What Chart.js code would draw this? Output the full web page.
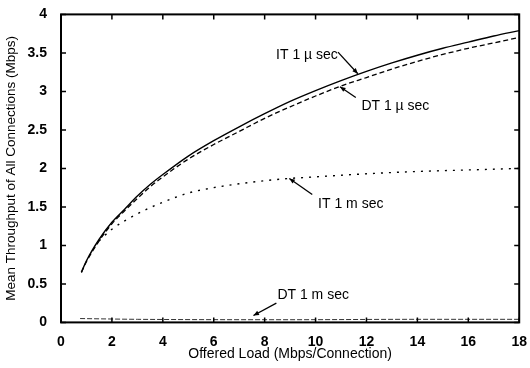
<!DOCTYPE html>
<html>
<head>
<meta charset="utf-8">
<script src="https://cdn.jsdelivr.net/npm/chart.js@4.4.1/dist/chart.umd.min.js"></script>
<style>
  html, body { margin: 0; padding: 0; background: #fff; }
  #wrap { width: 530px; height: 368px; }
</style>
</head>
<body>
<div id="wrap"><canvas id="chart" width="530" height="368"></canvas></div>
<script>
// offered load (Mbps/connection)
const loadX = [0.8, 1, 1.5, 2, 2.5, 3, 3.5, 4, 5, 6, 7, 8, 9, 10, 11, 12, 13, 14, 15, 16, 17, 18];
const it1us = [0.65, 0.8, 1.08, 1.3, 1.47, 1.64, 1.79, 1.92, 2.16, 2.36, 2.54, 2.71, 2.87, 3.01, 3.14, 3.26, 3.37, 3.47, 3.56, 3.64, 3.72, 3.79];
const dt1us = [0.65, 0.79, 1.06, 1.28, 1.45, 1.61, 1.76, 1.89, 2.12, 2.31, 2.48, 2.65, 2.8, 2.94, 3.07, 3.18, 3.29, 3.39, 3.48, 3.56, 3.63, 3.7];
const itmsX = [1.5, 2, 3, 4, 5, 6, 7, 8, 9, 10, 12, 14, 16, 18];
const it1ms = [1.06, 1.21, 1.41, 1.56, 1.68, 1.75, 1.8, 1.84, 1.87, 1.89, 1.93, 1.96, 1.98, 2.0];
const dtmsX = [0.75, 3, 9, 14, 18];
const dt1ms = [0.05, 0.04, 0.035, 0.04, 0.04];

const xTicks = [0, 2, 4, 6, 8, 10, 12, 14, 16, 18];
const yTicks = [0, 0.5, 1, 1.5, 2, 2.5, 3, 3.5, 4];

// label text position, arrow start -> arrow tip (data units)
const notes = [
  { text: 'IT 1 \u00b5 sec', x: 8.45, y: 3.47, from: [10.88, 3.51], to: [11.66, 3.23] },
  { text: 'DT 1 \u00b5 sec', x: 11.8, y: 2.81, from: [11.58, 2.92], to: [10.96, 3.06] },
  { text: 'IT 1 m sec', x: 10.1, y: 1.53, from: [9.87, 1.66], to: [8.97, 1.87] },
  { text: 'DT 1 m sec', x: 8.5, y: 0.36, from: [8.46, 0.25], to: [7.56, 0.09] }
];

const pts = (xs, ys) => xs.map((x, i) => ({ x: x, y: ys[i] }));
const FONT = '"Liberation Sans", Arial, sans-serif';

const frame = {
  id: 'frame',
  afterDatasetsDraw(chart) {
    const { ctx, chartArea: a, scales } = chart;
    ctx.save();
    ctx.strokeStyle = '#000';
    ctx.lineWidth = 2;
    ctx.strokeRect(a.left, a.top, a.right - a.left, a.bottom - a.top);
    ctx.lineWidth = 1.5;
    ctx.beginPath();
    xTicks.forEach(v => {
      const px = scales.x.getPixelForValue(v);
      ctx.moveTo(px, a.bottom); ctx.lineTo(px, a.bottom - 5);
      ctx.moveTo(px, a.top); ctx.lineTo(px, a.top + 5);
    });
    yTicks.forEach(v => {
      const py = scales.y.getPixelForValue(v);
      ctx.moveTo(a.left, py); ctx.lineTo(a.left + 5, py);
      ctx.moveTo(a.right, py); ctx.lineTo(a.right - 5, py);
    });
    ctx.stroke();

    ctx.font = '14px ' + FONT;
    ctx.fillStyle = '#000';
    ctx.textBaseline = 'middle';
    ctx.lineWidth = 1.3;
    notes.forEach(n => {
      ctx.fillText(n.text, scales.x.getPixelForValue(n.x), scales.y.getPixelForValue(n.y));
      const x1 = scales.x.getPixelForValue(n.from[0]), y1 = scales.y.getPixelForValue(n.from[1]);
      const x2 = scales.x.getPixelForValue(n.to[0]), y2 = scales.y.getPixelForValue(n.to[1]);
      ctx.beginPath(); ctx.moveTo(x1, y1); ctx.lineTo(x2, y2); ctx.stroke();
      const ang = Math.atan2(y2 - y1, x2 - x1);
      ctx.beginPath();
      ctx.moveTo(x2, y2);
      ctx.lineTo(x2 - 6 * Math.cos(ang - 0.4), y2 - 6 * Math.sin(ang - 0.4));
      ctx.lineTo(x2 - 6 * Math.cos(ang + 0.4), y2 - 6 * Math.sin(ang + 0.4));
      ctx.closePath(); ctx.fill();
    });
    ctx.restore();
  }
};

new Chart(document.getElementById('chart'), {
  type: 'line',
  data: {
    datasets: [
      { label: 'IT 1 usec', data: pts(loadX, it1us), borderColor: '#000', borderWidth: 1.4 },
      { label: 'DT 1 usec', data: pts(loadX, dt1us), borderColor: '#000', borderWidth: 1.3, borderDash: [5, 3] },
      { label: 'IT 1 msec', data: pts(itmsX, it1ms), borderColor: '#000', borderWidth: 1.4, borderDash: [2, 6] },
      { label: 'DT 1 msec', data: pts(dtmsX, dt1ms), borderColor: '#333', borderWidth: 1, borderDash: [5, 2] }
    ]
  },
  options: {
    responsive: false,
    animation: false,
    events: [],
    layout: { padding: { left: 3, right: 4, top: 12, bottom: 5 } },
    elements: { point: { radius: 0 }, line: { cubicInterpolationMode: 'monotone' } },
    plugins: { legend: { display: false }, tooltip: { enabled: false } },
    scales: {
      x: {
        type: 'linear', min: 0, max: 18,
        afterBuildTicks: s => { s.ticks = xTicks.map(v => ({ value: v })); },
        grid: { display: false },
        border: { display: false },
        ticks: { color: '#000', font: { family: FONT, size: 14, weight: 'bold' }, padding: 3, maxRotation: 0 },
        title: { display: true, text: 'Offered Load (Mbps/Connection)', color: '#000', font: { family: FONT, size: 14 }, padding: { top: -7, bottom: 0 } }
      },
      y: {
        type: 'linear', min: 0, max: 4,
        afterBuildTicks: s => { s.ticks = yTicks.map(v => ({ value: v })); },
        afterFit: s => { s.width = 58; },
        grid: { display: false },
        border: { display: false },
        ticks: { color: '#000', font: { family: FONT, size: 14, weight: 'bold' }, padding: 6, callback: v => String(v) },
        title: { display: true, text: 'Mean Throughput of All Connections (Mbps)', color: '#000', font: { family: FONT, size: 13.5 }, padding: { top: 0, bottom: 2 } }
      }
    }
  },
  plugins: [frame]
});
</script>
</body>
</html>
